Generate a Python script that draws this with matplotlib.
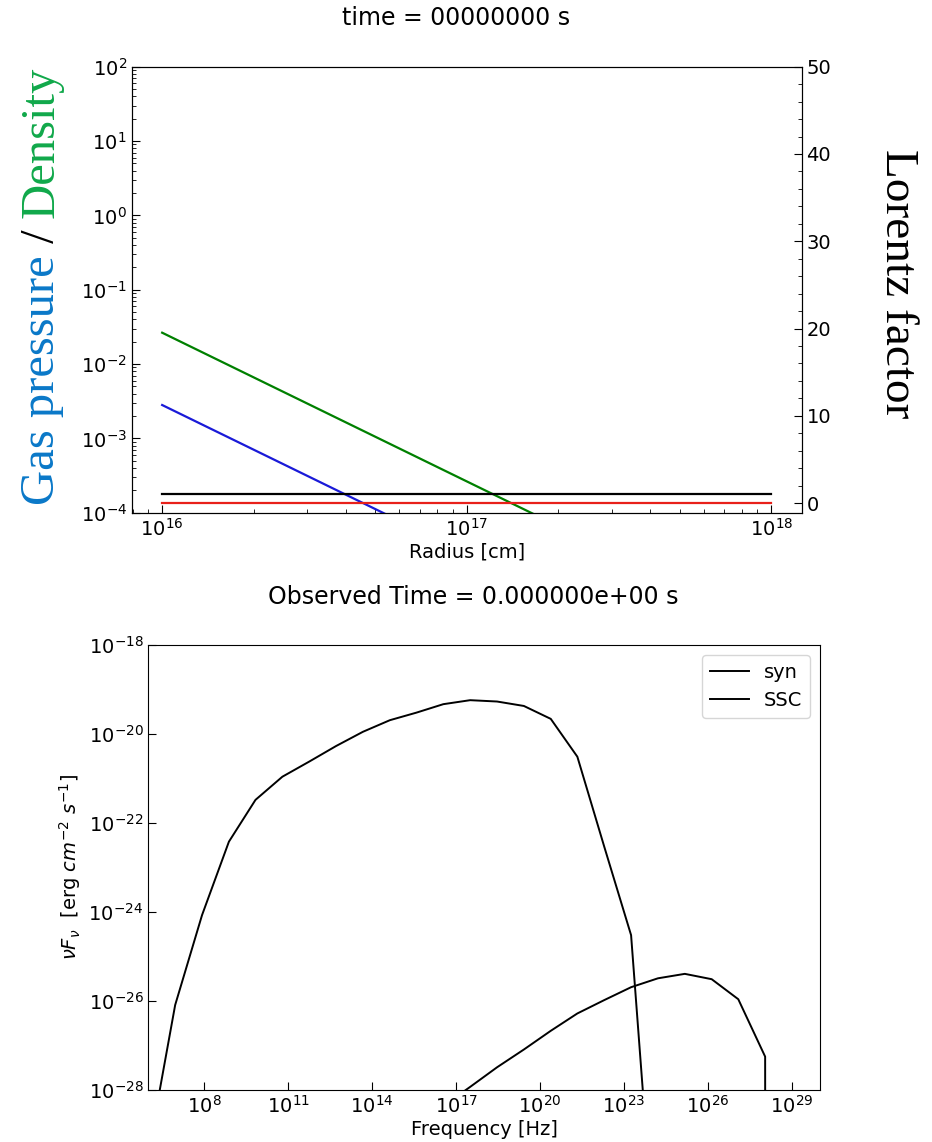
import matplotlib
matplotlib.use("Agg")
import matplotlib.pyplot as plt
from matplotlib.ticker import NullLocator, MultipleLocator

# ---- shell profile at t = 0 ----
radius = [1e16, 1e18]                      # cm
density = [2.64e-2, 2.64e-6]               # falls as r^-2
pressure = [2.81e-3, 2.81e-7]              # falls as r^-2
lorentz = [1.0, 1.0]
velocity = [0.0, 0.0]

# ---- observed spectrum at t = 0 ----
log_nu = [6.00, 6.96, 7.92, 8.88, 9.83, 10.79, 11.75, 12.71, 13.67, 14.63,
          15.58, 16.54, 17.50, 18.46, 19.42, 20.38, 21.33, 22.29, 23.25,
          24.21, 25.17, 26.13, 27.08, 28.04, 29.00]
log_syn = [-29.42, -26.09, -24.07, -22.42, -21.48, -20.96, -20.62, -20.27,
           -19.95, -19.69, -19.52, -19.33, -19.24, -19.27, -19.37, -19.66,
           -20.51, -22.53, -24.52, -32.52, None, None, None, None, None]
log_ssc = [None, None, None, None, None, None, None, None, None, None, None,
           -28.36, -27.93, -27.49, -27.09, -26.67, -26.28, -25.98, -25.69,
           -25.49, -25.39, -25.51, -25.96, -27.25, None]

nu = [10.0 ** v for v in log_nu]
syn = [0.0 if v is None else 10.0 ** v for v in log_syn]
ssc = [0.0 if v is None else 10.0 ** v for v in log_ssc]

W, H, DPI = 932, 1142, 100
fig = plt.figure(figsize=(W / DPI, H / DPI), dpi=DPI)

def box(l, t, r, b):
    return [l / W, 1 - b / H, (r - l) / W, (b - t) / H]

tick_kw = dict(direction="in", labelsize=14)

# ---------------- top panel ----------------
ax = fig.add_axes(box(131.7, 66.7, 801.7, 512.7))
ax.plot(radius, density, color="green", lw=1.6)
ax.plot(radius, pressure, color="#1a1ad8", lw=1.6)
ax.set_xscale("log")
ax.set_yscale("log")
ax.set_ylim(1e-4, 1e2)
ax.tick_params(which="major", length=6, **tick_kw)
ax.tick_params(which="minor", length=3, direction="in")
ax.set_xlabel("Radius [cm]", fontsize=14, labelpad=2)

ax2 = ax.twinx()
ax2.plot(radius, lorentz, color="black", lw=1.6)
ax2.plot(radius, velocity, color="#e8201a", lw=1.6)
ax2.set_ylim(-1.1, 50)
ax2.yaxis.set_major_locator(MultipleLocator(10))
ax2.yaxis.set_minor_locator(MultipleLocator(2))
ax2.tick_params(which="major", length=6, **tick_kw)
ax2.tick_params(which="minor", length=3, direction="in")

fig.text(456 / W, 1 - 18 / H, "time = 00000000 s", fontsize=17,
         ha="center", va="center")

# two-colour left label, stacked bottom to top
serif = "Liberation Serif"
fig.canvas.draw()
renderer = fig.canvas.get_renderer()
y0 = 1 - 505 / H
for piece, col in [("Gas pressure", "#0a78c8"), (" / ", "black"),
                   ("Density", "#10a84a")]:
    t = fig.text(42 / W, y0, piece, rotation=90, fontsize=35, family=serif,
                 color=col, ha="center", va="bottom")
    bb = t.get_window_extent(renderer)
    y0 = bb.y1 / H

fig.text(897 / W, 1 - 284 / H, "Lorentz factor", rotation=270, fontsize=34,
         family=serif, ha="center", va="center")

# ---------------- bottom panel ----------------
bx = fig.add_axes(box(148.3, 645, 820, 1090))
bx.plot(nu, syn, color="black", lw=1.4, label="syn")
bx.plot(nu, ssc, color="black", lw=1.4, label="SSC")
bx.set_xscale("log")
bx.set_yscale("log")
bx.set_xlim(1e6, 1e30)
bx.set_ylim(1e-28, 1e-18)
bx.set_xticks([10.0 ** e for e in range(8, 30, 3)])
bx.set_yticks([10.0 ** e for e in range(-28, -17, 2)])
bx.xaxis.set_minor_locator(NullLocator())
bx.yaxis.set_minor_locator(NullLocator())
bx.tick_params(which="major", length=6, **tick_kw)
bx.set_xlabel("Frequency [Hz]", fontsize=14, labelpad=2)
bx.set_ylabel(r"$\nu F_{\nu}$  [erg $cm^{-2}$ $s^{-1}$]", fontsize=14)
bx.legend(loc="upper right", fontsize=14)

fig.text(473 / W, 1 - 597 / H, "Observed Time = 0.000000e+00 s",
         fontsize=17, ha="center", va="center")

fig.savefig("out.png", dpi=DPI)
